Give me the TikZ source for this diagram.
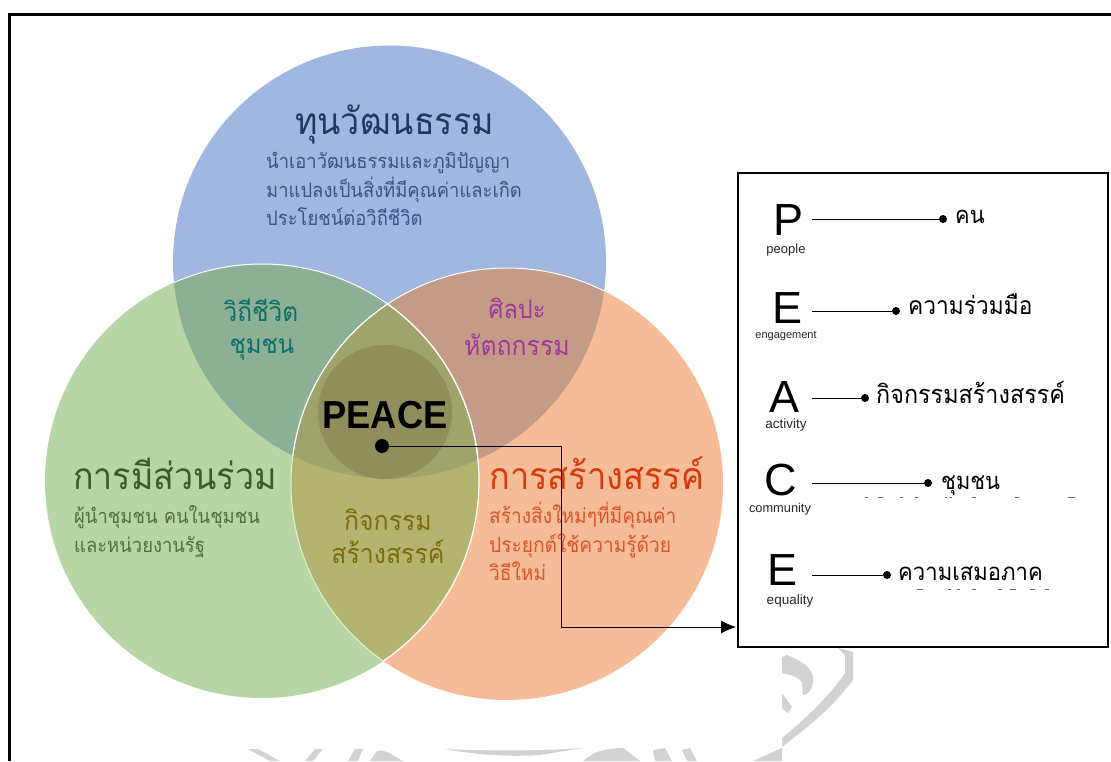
\documentclass[tikz,border=0pt]{standalone}
\usepackage{fontspec}
\usetikzlibrary{arrows.meta}
\setmainfont{Liberation Sans}
\newfontfamily\thaifont[Script=Thai,FakeStretch=0.92]{Loma}
\newfontfamily\peacefont[FakeStretch=0.93]{Liberation Sans}
\definecolor{cblue}{HTML}{A0B8E0}
\definecolor{cgreen}{HTML}{B7D6A5}
\definecolor{corange}{HTML}{F6BC98}
\definecolor{cbg}{HTML}{8BB096}
\definecolor{cbo}{HTML}{C49B87}
\definecolor{cgo}{HTML}{B2B46F}
\definecolor{ctri}{HTML}{9FA56A}
\definecolor{cmid}{HTML}{8E8F5C}
\definecolor{wm}{HTML}{D2D2D2}
\definecolor{tnavy}{HTML}{1F3864}
\definecolor{bnavy}{HTML}{3B5484}
\definecolor{tteal}{HTML}{0F6E6A}
\definecolor{tpurple}{HTML}{A0379A}
\definecolor{tgreen}{HTML}{3E5B2A}
\definecolor{bgreen}{HTML}{4F7338}
\definecolor{torange}{HTML}{D63C0A}
\definecolor{borange}{HTML}{D9562A}
\definecolor{tolive}{HTML}{7F6A10}
\tikzset{x=1pt,y=-1pt,
  th/.style={font=\thaifont\fontsize{#1}{#1}\selectfont,inner sep=0pt,anchor=base west},
  thc/.style={font=\thaifont\fontsize{#1}{#1}\selectfont,inner sep=0pt,anchor=base},
  dotend/.style={circle,fill=black,inner sep=0pt,minimum size=8pt},
  letter/.style={font=\fontsize{45}{45}\selectfont,inner sep=0pt,anchor=base,text depth=0pt},
  sublabel/.style={font=\fontsize{#1}{#1}\selectfont,inner sep=0pt,text=black!85,anchor=base,text height=6pt},
  lead/.style={line width=0.9pt,black},
  wmark/.style={fill=wm,draw=none}}
\def\bluec{(389.5,262) circle (216.5)}
\def\greenc{(262,481) circle (217)}
\def\orangec{(507,484) circle (216)}
\begin{document}
\begin{tikzpicture}
\useasboundingbox (0,0) rectangle (1111,761);
\fill[white] (0,0) rectangle (1111,761);
% watermark
\fill[wmark] (248,749) -- (258,749) -- (280,761) -- (270,761) -- cycle;
\fill[wmark] (315,749) -- (323,749) -- (313,761) -- (305,761) -- cycle;
\fill[wmark] (355,749) -- (363,749) -- (358,761) -- (348,761) -- cycle;
\fill[wmark] (377,751) .. controls (385,749) and (392,755) .. (403,761) -- (370,761) -- cycle;
\fill[wmark] (445,749) .. controls (490,751) and (540,751) .. (583,748) -- (540,755) .. controls (510,757) and (475,755) .. (445,749) -- cycle;
\fill[wmark] (583,761) .. controls (595,750) and (610,748) .. (623,748) -- (640,761) -- cycle;
\fill[wmark] (653,750) -- (665,748) -- (672,761) -- (655,761) -- cycle;
\fill[wmark] (682,750) -- (690,748) -- (697,761) -- (687,761) -- cycle;
\fill[wmark] (838,648) -- (853,652) -- (853,680) .. controls (830,710) and (810,725) .. (782,747) -- (782,738) .. controls (810,715) and (830,695) .. (845,673) -- (845,655) -- cycle;
\fill[wmark] (782,657) -- (787,655) .. controls (800,660) and (815,668) .. (813,682) .. controls (812,690) and (808,695) .. (803,695) -- (802,683) .. controls (800,677) and (790,675) .. (782,673) -- cycle;
\fill[wmark] (782,693) -- (792,707) -- (788,713) -- (782,708) -- cycle;
\fill[wmark] (782,748) -- (782,761) -- (753,761) -- cycle;
% outer frame
\draw[line width=3pt,black] (9.5,761) -- (9.5,14) -- (1111,14);
% circles
\fill[cblue] \bluec;
\fill[cgreen] \greenc;
\fill[corange] \orangec;
\begin{scope}\clip \bluec; \fill[cbg] \greenc; \fill[cbo] \orangec; \end{scope}
\begin{scope}\clip \greenc; \fill[cgo] \orangec; \end{scope}
\begin{scope}\clip \bluec; \clip \greenc; \fill[ctri] \orangec; \end{scope}
\begin{scope}\clip \greenc; \clip \orangec; \fill[cmid] (385,412) circle (67); \end{scope}
\begin{scope}\clip \orangec; \draw[white,line width=1.2pt] \greenc; \end{scope}
\begin{scope}\clip \greenc; \draw[white!60!cgreen,line width=1pt] \orangec; \end{scope}
\begin{scope}\clip \bluec; \draw[white,line width=1pt] \greenc; \draw[white,line width=1pt] \orangec; \end{scope}
% circle texts
\node[th=37,text=tnavy] (t1) at (295,134) {ทุนวัฒนธรรม};
\node[th=20,text=bnavy] (t1a) at (266,168) {นำเอาวัฒนธรรมและภูมิปัญญา};
\node[th=20,text=bnavy] (t1b) at (266,197) {มาแปลงเป็นสิ่งที่มีคุณค่าและเกิด};
\node[th=20,text=bnavy] (t1c) at (266,225) {ประโยชน์ต่อวิถีชีวิต};
\node[thc=26.5,text=tteal] (v1) at (261,321) {วิถีชีวิต};
\node[thc=26,text=tteal] (v2) at (262,353) {ชุมชน};
\node[thc=25.5,text=tpurple] (s1) at (517,318) {ศิลปะ};
\node[thc=27,text=tpurple] (s2) at (517,355) {หัตถกรรม};
\node[th=37,text=tgreen] (g0) at (73,489) {การมีส่วนร่วม};
\node[th=20,text=bgreen] (g1) at (74,523) {ผู้นำชุมชน คนในชุมชน};
\node[th=20,text=bgreen] (g2) at (74,552) {และหน่วยงานรัฐ};
\node[th=37.4,text=torange] (o0) at (489,489) {การสร้างสรรค์};
\node[th=20.8,text=borange] (o1) at (489,523) {สร้างสิ่งใหม่ๆที่มีคุณค่า};
\node[th=20.8,text=borange] (o2) at (489,552) {ประยุกต์ใช้ความรู้ด้วย};
\node[th=20.8,text=borange] (o3) at (489,580) {วิธีใหม่};
\node[thc=27,text=tolive] (a1) at (388,530) {กิจกรรม};
\node[thc=27,text=tolive] (a2) at (388,563) {สร้างสรรค์};
\node[font=\peacefont\bfseries\fontsize{39}{39}\selectfont,inner sep=0pt,anchor=base,text=black] (peace) at (385,428) {PEACE};
% box
\node[draw=black,line width=2pt,fill=white,inner sep=0pt,minimum width=370pt,minimum height=474pt,anchor=north west] (box) at (737,172) {};
\coordinate (c1) at (812,219); \node[dotend] (d1) at (943,219) {};
\coordinate (c2) at (812,311); \node[dotend] (d2) at (896,311) {};
\coordinate (c3) at (812,398); \node[dotend] (d3) at (865,398) {};
\coordinate (c4) at (812,483); \node[dotend] (d4) at (928,483) {};
\coordinate (c5) at (812,575); \node[dotend] (d5) at (887,575) {};
\foreach \i in {1,...,5} \draw[lead] (c\i) -- (d\i);
\node[letter] (lp) at (788,235) {P};
\node[letter] (le) at (787,323) {E};
\node[letter] (la) at (784,412) {A};
\node[letter] (lc) at (781,495) {C};
\node[letter] (lq) at (782,585) {E};
\node[sublabel=13] (sp) at (786,253) {people};
\node[sublabel=11] (se) at (786,338) {engagement};
\node[sublabel=13.5] (sa) at (786,428) {activity};
\node[sublabel=12.8] (sc) at (780,512) {community};
\node[sublabel=13.5] (sq) at (790,604) {equality};
\node[th=23.7,text=black] (w1) at (955,223) {คน};
\node[th=24.7,text=black] (w2) at (908,314) {ความร่วมมือ};
\node[th=25.4,text=black] (w3) at (876,403) {กิจกรรมสร้างสรรค์};
\node[th=23.7,text=black] (w4) at (941,489) {ชุมชน};
\node[th=24,text=black] (w5) at (898,580) {ความเสมอภาค};
% clipped remnants of hidden lines
\foreach \x/\w in {865/3,878/5,900/3,915/3,945/2,950/2,972/4,1015/4,1068/7} \fill[black!60] (\x,497) rectangle ++(\w,1);
\foreach \x/\w in {917/6,948/3,957/3,972/4,998/4,1010/6,1030/5,1045/4} \fill[black!60] (\x,588.5) rectangle ++(\w,1);
% main connector
\node[dotend,minimum size=14pt] (peacedot) at (382,446) {};
\coordinate (corner) at (561,446);
\coordinate (arrowend) at (736,627);
\draw[line width=0.9pt,black,-{Latex[length=15pt,width=13pt]}] (peacedot.center) -- (corner) |- (arrowend);
\end{tikzpicture}
\end{document}
